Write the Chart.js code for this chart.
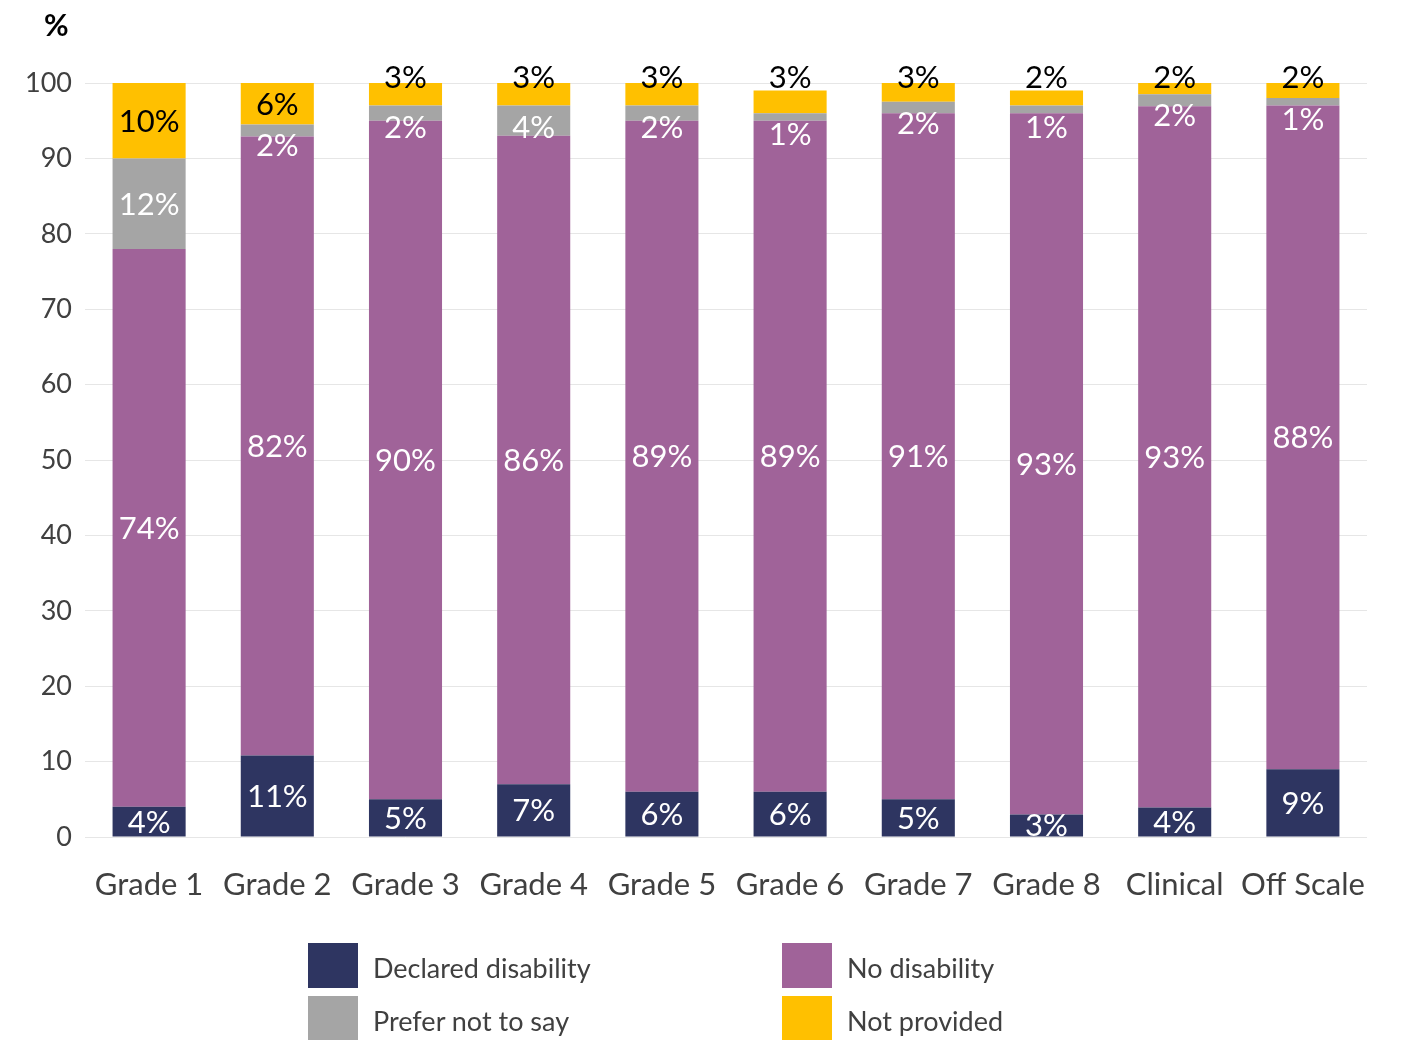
<!DOCTYPE html>
<html>
<head>
<meta charset="utf-8">
<script src="https://cdn.jsdelivr.net/npm/chart.js@4.4.1/dist/chart.umd.min.js"></script>
<style>
  body { margin: 0; background: #fff; }
  #wrap { position: relative; width: 1401px; height: 1040px; font-family: Lato, "Open Sans", sans-serif; }
  #unit { position: absolute; left: 44px; top: 6px; font-size: 30px; font-weight: bold; color: #000; }
  #legend { position: absolute; left: 308px; top: 943px; width: 800px; }
  .item { position: absolute; height: 45px; }
  .box { position: absolute; left: 0; top: 0; width: 50px; height: 45px; }
  .lbl { position: absolute; left: 65px; top: 8px; font-size: 27px; font-weight: 400; color: #404040; white-space: nowrap; }
</style>
</head>
<body>
<div id="wrap">
  <canvas id="chart" width="1401" height="1040"></canvas>
  <div id="unit">%</div>
  <div id="legend"></div>
</div>
<script>
document.addEventListener("DOMContentLoaded", function () {
    const categories = ["Grade 1", "Grade 2", "Grade 3", "Grade 4", "Grade 5", "Grade 6", "Grade 7", "Grade 8", "Clinical", "Off Scale"];
    const seriesNames = ["Declared disability", "No disability", "Prefer not to say", "Not provided"];
    const declared = [4, 10.8, 5, 7, 6, 6, 5, 3, 3.9, 9];
    const noDisability = [74, 82.1, 90, 86, 89, 89, 91, 93, 93, 88];
    const preferNot = [12, 1.6, 2, 4, 2, 1, 1.5, 1, 1.6, 1];
    const notProvided = [10, 5.5, 3, 3, 3, 3, 2.5, 2, 1.5, 2];
    const yTicks = [0, 10, 20, 30, 40, 50, 60, 70, 80, 90, 100];

    const colors = ["#2e3561", "#a06399", "#a5a5a5", "#ffc000"];
    const labelColors = ["#fff", "#fff", "#fff", "#000"];
    const fontFamily = "Lato, 'Open Sans', sans-serif";

    const datasets = [declared, noDisability, preferNot, notProvided].map(function (values, i) {
        return {
            label: seriesNames[i],
            data: values,
            backgroundColor: colors[i],
            labelColor: labelColors[i],
            // where a label goes when its segment is too thin to hold it
            smallPlacement: i === 2 ? "below" : (i === 3 ? "above" : "center"),
        };
    });

    // draws the % labels on each segment
    const segmentLabels = {
        id: "segmentLabels",
        afterDatasetsDraw(chart) {
            const ctx = chart.ctx;
            ctx.save();
            ctx.font = "400 31px " + fontFamily;
            ctx.textAlign = "center";
            ctx.textBaseline = "middle";
            chart.data.datasets.forEach((ds, di) => {
                const meta = chart.getDatasetMeta(di);
                meta.data.forEach((bar, i) => {
                    const top = Math.min(bar.y, bar.base);
                    const bottom = Math.max(bar.y, bar.base);
                    const h = bottom - top;
                    let y = (top + bottom) / 2 + 1;
                    if (h < 32) {
                        if (ds.smallPlacement === "below") y = top + 22;
                        if (ds.smallPlacement === "above") y = chart.chartArea.top - 5;
                    }
                    ctx.fillStyle = ds.labelColor;
                    ctx.fillText(Math.round(ds.data[i]) + "%", bar.x, y);
                });
            });
            ctx.restore();
        },
    };

    new Chart(document.getElementById("chart"), {
        type: "bar",
        data: { labels: categories, datasets: datasets },
        options: {
            responsive: false,
            animation: false,
            layout: { padding: { top: 83, right: 34, bottom: 123, left: 0 } },
            datasets: { bar: { categoryPercentage: 1, barPercentage: 0.57 } },
            plugins: {
                legend: { display: false },
                tooltip: { enabled: false },
            },
            scales: {
                x: {
                    stacked: true,
                    grid: { display: false },
                    border: { display: false },
                    ticks: { color: "#404040", font: { family: fontFamily, size: 31, weight: 400 }, padding: 21, maxRotation: 0 },
                    afterFit(scale) { scale.height = 80; },
                },
                y: {
                    stacked: true,
                    min: 0,
                    max: 100,
                    afterBuildTicks(scale) { scale.ticks = yTicks.map(v => ({ value: v })); },
                    grid: { color: "#e6e6e6", drawTicks: false },
                    border: { display: false },
                    ticks: { color: "#404040", font: { family: fontFamily, size: 27, weight: 400 }, padding: 13 },
                    afterFit(scale) { scale.width = 85; },
                },
            },
        },
        plugins: [segmentLabels],
    });

    const legend = document.getElementById("legend");
    const legendPos = [[0, 0], [474, 0], [0, 53], [474, 53]];
    seriesNames.forEach(function (name, i) {
        const item = document.createElement("div");
        item.className = "item";
        item.style.left = legendPos[i][0] + "px";
        item.style.top = legendPos[i][1] + "px";
        item.innerHTML = '<div class="box" style="background:' + colors[i] + '"></div><div class="lbl">' + name + '</div>';
        legend.appendChild(item);
    });
});
</script>
</body>
</html>
